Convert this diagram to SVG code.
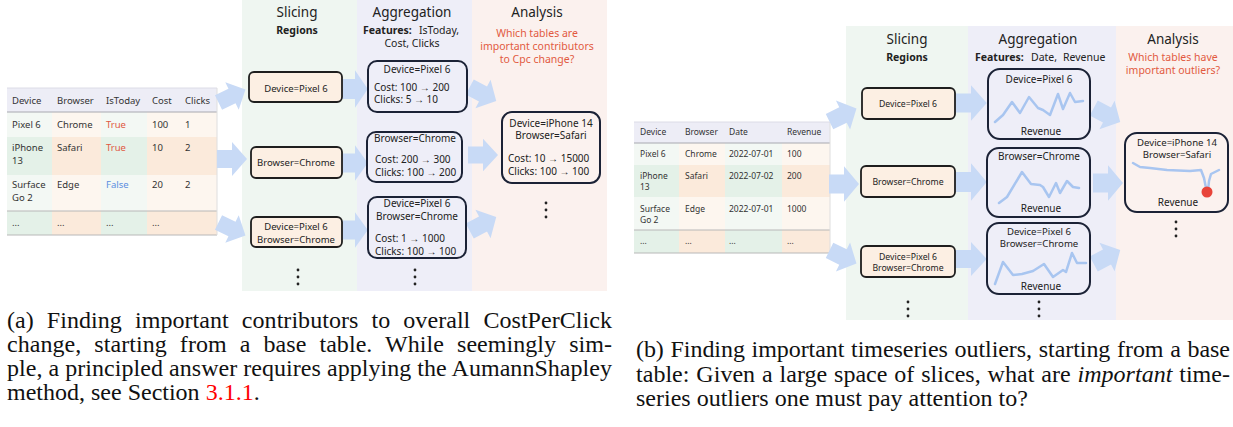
<svg xmlns="http://www.w3.org/2000/svg" width="1233" height="427" viewBox="0 0 1233 427">
<style>
text{font-family:"Noto Sans","Open Sans",sans-serif;fill:#222}
.hdr{font-size:13.5px;text-anchor:middle}
.sub{font-size:10.5px;font-weight:bold;text-anchor:middle}
.feat{font-size:10.5px}
.b{font-weight:bold}
.red{fill:#e25a3f;font-size:10.5px;text-anchor:middle}
.tl{font-size:9.5px;fill:#333}
.tr{font-size:8.5px;fill:#333}
.t{fill:#e0583f}
.f{fill:#5b8ee0}
.slice{fill:#fcefe3;stroke:#1e1e1e;stroke-width:1.8}
.agg{fill:#eeeef8;stroke:#1b2236;stroke-width:2}
.an{fill:#fbf2ef;stroke:#1b2236;stroke-width:2}
.st{font-size:9.5px;text-anchor:middle}
.st2{font-size:8.7px;text-anchor:middle}
.bt{font-size:10px}
.br{font-size:9.6px}
.c{text-anchor:middle}
.arr{fill:#c8daf6}
.ts{fill:none;stroke:#a8c5f0;stroke-width:2.5;stroke-linejoin:round;stroke-linecap:round}
.dot{fill:#222}
.cap{font-family:"Liberation Serif","Times New Roman",serif;font-size:24px;fill:#111}
.gl{fill:#f3f8f4}.gd{fill:#e4f1e8}.ol{fill:#fdf6ef}.od{fill:#fbeadb}
.hd{fill:#ededf6}
</style>
<defs>
<path id="ba" d="M-15,-9 H0 V-17 L15,0 L0,17 V9 H-15 Z"/>
<g id="vd"><circle cx="0" cy="0" r="1.4"/><circle cx="0" cy="7" r="1.4"/><circle cx="0" cy="14" r="1.4"/></g>
</defs>
<rect width="1233" height="427" fill="#ffffff"/>

<!-- column backgrounds -->
<g id="bg-left">
<rect x="242" y="0" width="115" height="291" fill="#eff6f1"/>
<rect x="357" y="0" width="115" height="291" fill="#eeeef8"/>
<rect x="472" y="0" width="135" height="291" fill="#fbf1ee"/>
</g>
<g id="bg-right">
<rect x="846" y="26" width="122" height="294" fill="#eff6f1"/>
<rect x="968" y="26" width="148" height="294" fill="#eeeef8"/>
<rect x="1116" y="26" width="117" height="294" fill="#fbf1ee"/>
</g>

<!-- headers -->
<g id="headers-left">
<text class="hdr" x="297" y="17">Slicing</text>
<text class="sub" x="297" y="34">Regions</text>
<text class="hdr" x="412" y="17">Aggregation</text>
<text class="feat" x="363" y="34"><tspan class="b">Features:</tspan><tspan x="419">IsToday,</tspan></text>
<text class="feat c" x="412" y="47">Cost, Clicks</text>
<text class="hdr" x="537" y="17">Analysis</text>
<text class="red" x="537" y="37">Which tables are</text>
<text class="red" x="537" y="50">important contributors</text>
<text class="red" x="537" y="63">to Cpc change?</text>
</g>
<g id="headers-right">
<text class="hdr" x="907" y="44">Slicing</text>
<text class="sub" x="907" y="61">Regions</text>
<text class="hdr" x="1038" y="44">Aggregation</text>
<text class="feat" x="975" y="61"><tspan class="b">Features:</tspan><tspan x="1031">Date,</tspan><tspan x="1063">Revenue</tspan></text>
<text class="hdr" x="1173" y="44">Analysis</text>
<text class="red" x="1173" y="61">Which tables have</text>
<text class="red" x="1173" y="74">important outliers?</text>
</g>

<!-- left table -->
<g id="table-left">
<rect class="hd" x="7" y="88" width="210" height="24"/>
<rect class="gl" x="7" y="112" width="45" height="25"/><rect class="ol" x="52" y="112" width="49" height="25"/><rect class="gl" x="101" y="112" width="46" height="25"/><rect class="ol" x="147" y="112" width="70" height="25"/>
<rect class="gd" x="7" y="137" width="45" height="38"/><rect class="od" x="52" y="137" width="49" height="38"/><rect class="gd" x="101" y="137" width="46" height="38"/><rect class="od" x="147" y="137" width="70" height="38"/>
<rect class="gl" x="7" y="175" width="45" height="36"/><rect class="ol" x="52" y="175" width="49" height="36"/><rect class="gl" x="101" y="175" width="46" height="36"/><rect class="ol" x="147" y="175" width="70" height="36"/>
<rect class="gd" x="7" y="211" width="45" height="24"/><rect class="od" x="52" y="211" width="49" height="24"/><rect class="gd" x="101" y="211" width="46" height="24"/><rect class="od" x="147" y="211" width="70" height="24"/>
<line x1="7" y1="88" x2="217" y2="88" stroke="#dcdce6" stroke-width="1"/>
<line x1="7" y1="112" x2="217" y2="112" stroke="#a8a8b0" stroke-width="1"/>
<line x1="7" y1="211" x2="217" y2="211" stroke="#b8b8b8" stroke-width="1"/>
<line x1="7" y1="235" x2="217" y2="235" stroke="#b8b8b8" stroke-width="1"/>
<line x1="217" y1="88" x2="217" y2="235" stroke="#dedede" stroke-width="1"/>
<text class="tl" x="12" y="104">Device</text><text class="tl" x="57" y="104">Browser</text><text class="tl" x="106" y="104">IsToday</text><text class="tl" x="152" y="104">Cost</text><text class="tl" x="185" y="104">Clicks</text>
<text class="tl" x="12" y="128">Pixel 6</text><text class="tl" x="57" y="128">Chrome</text><text class="tl t" x="106" y="128">True</text><text class="tl" x="152" y="128">100</text><text class="tl" x="185" y="128">1</text>
<text class="tl" x="12" y="151">iPhone</text><text class="tl" x="12" y="164">13</text><text class="tl" x="57" y="151">Safari</text><text class="tl t" x="106" y="151">True</text><text class="tl" x="152" y="151">10</text><text class="tl" x="185" y="151">2</text>
<text class="tl" x="12" y="188">Surface</text><text class="tl" x="12" y="201">Go 2</text><text class="tl" x="57" y="188">Edge</text><text class="tl f" x="106" y="188">False</text><text class="tl" x="152" y="188">20</text><text class="tl" x="185" y="188">2</text>
<text class="tl" x="12" y="226" font-size="7">...</text><text class="tl" x="57" y="226" font-size="7">...</text><text class="tl" x="106" y="226" font-size="7">...</text><text class="tl" x="152" y="226" font-size="7">...</text>
</g>

<!-- right table -->
<g id="table-right">
<rect class="hd" x="634" y="122" width="196" height="21"/>
<rect class="gl" x="634" y="143" width="45" height="22"/><rect class="ol" x="679" y="143" width="46" height="22"/><rect class="gl" x="725" y="143" width="57" height="22"/><rect class="ol" x="782" y="143" width="48" height="22"/>
<rect class="gd" x="634" y="165" width="45" height="32"/><rect class="od" x="679" y="165" width="46" height="32"/><rect class="gd" x="725" y="165" width="57" height="32"/><rect class="od" x="782" y="165" width="48" height="32"/>
<rect class="gl" x="634" y="197" width="45" height="33"/><rect class="ol" x="679" y="197" width="46" height="33"/><rect class="gl" x="725" y="197" width="57" height="33"/><rect class="ol" x="782" y="197" width="48" height="33"/>
<rect class="gd" x="634" y="230" width="45" height="23"/><rect class="od" x="679" y="230" width="46" height="23"/><rect class="gd" x="725" y="230" width="57" height="23"/><rect class="od" x="782" y="230" width="48" height="23"/>
<line x1="634" y1="122" x2="830" y2="122" stroke="#dcdce6" stroke-width="1"/>
<line x1="634" y1="143" x2="830" y2="143" stroke="#a8a8b0" stroke-width="1"/>
<line x1="634" y1="230" x2="830" y2="230" stroke="#b8b8b8" stroke-width="1"/>
<line x1="634" y1="253" x2="830" y2="253" stroke="#b8b8b8" stroke-width="1"/>
<line x1="830" y1="122" x2="830" y2="253" stroke="#dedede" stroke-width="1"/>
<text class="tr" x="640" y="135">Device</text><text class="tr" x="685" y="135">Browser</text><text class="tr" x="729" y="135">Date</text><text class="tr" x="787" y="135">Revenue</text>
<text class="tr" x="640" y="157">Pixel 6</text><text class="tr" x="685" y="157">Chrome</text><text class="tr" x="729" y="157">2022-07-01</text><text class="tr" x="787" y="157">100</text>
<text class="tr" x="640" y="179">iPhone</text><text class="tr" x="640" y="190">13</text><text class="tr" x="685" y="179">Safari</text><text class="tr" x="729" y="179">2022-07-02</text><text class="tr" x="787" y="179">200</text>
<text class="tr" x="640" y="212">Surface</text><text class="tr" x="640" y="223">Go 2</text><text class="tr" x="685" y="212">Edge</text><text class="tr" x="729" y="212">2022-07-01</text><text class="tr" x="787" y="212">1000</text>
<text class="tr" x="640" y="244" font-size="6.5">...</text><text class="tr" x="685" y="244" font-size="6.5">...</text><text class="tr" x="729" y="244" font-size="6.5">...</text><text class="tr" x="787" y="244" font-size="6.5">...</text>
</g>

<!-- connectors -->
<g id="connectors">
<use href="#ba" class="arr" transform="translate(232,96) rotate(-26) scale(1,0.9)"/>
<use href="#ba" class="arr" transform="translate(232,159)"/>
<use href="#ba" class="arr" transform="translate(232,229) rotate(26) scale(1,0.9)"/>
<use href="#ba" class="arr" transform="translate(355,89) scale(0.85,1.1)"/>
<use href="#ba" class="arr" transform="translate(355,163) scale(0.85,1.05)"/>
<use href="#ba" class="arr" transform="translate(355,230) scale(0.85,1.05)"/>
<use href="#ba" class="arr" transform="translate(483,94) rotate(28) scale(1,0.95)"/>
<use href="#ba" class="arr" transform="translate(483,155) scale(1,0.95)"/>
<use href="#ba" class="arr" transform="translate(483,224) rotate(-28) scale(1,0.95)"/>
<use href="#ba" class="arr" transform="translate(843,115) rotate(-26) scale(1,0.95)"/>
<use href="#ba" class="arr" transform="translate(844,184) scale(1,1.05)"/>
<use href="#ba" class="arr" transform="translate(843,257) rotate(26) scale(1,0.95)"/>
<use href="#ba" class="arr" transform="translate(971,103) scale(1.05,1.05)"/>
<use href="#ba" class="arr" transform="translate(971,182) scale(1.05,1.1)"/>
<use href="#ba" class="arr" transform="translate(971,259) scale(1.05,1)"/>
<use href="#ba" class="arr" transform="translate(1107,115) rotate(28) scale(1,0.95)"/>
<use href="#ba" class="arr" transform="translate(1108,183) scale(1,1.05)"/>
<use href="#ba" class="arr" transform="translate(1107,257) rotate(-28) scale(1,0.95)"/>
</g>

<!-- left nodes -->
<g id="slice-l1"><rect class="slice" x="249" y="72" width="93" height="30" rx="5"/><text class="st" x="296" y="92">Device=Pixel 6</text></g>
<g id="slice-l2"><rect class="slice" x="251" y="147" width="91" height="31" rx="5"/><text class="st" x="296" y="166">Browser=Chrome</text></g>
<g id="slice-l3"><rect class="slice" x="251" y="217" width="91" height="30" rx="5"/><text class="st" x="296" y="230">Device=Pixel 6</text><text class="st" x="296" y="242.5">Browser=Chrome</text></g>
<g id="slice-l-more" class="dot"><use href="#vd" x="298" y="270"/></g>

<g id="agg-l1"><rect class="agg" x="368" y="61" width="99" height="51" rx="9"/><text class="bt c" x="417" y="73">Device=Pixel 6</text><text class="bt" x="374" y="91">Cost: 100 → 200</text><text class="bt" x="374" y="103">Clicks: 5 → 10</text></g>
<g id="agg-l2"><rect class="agg" x="367" y="132" width="95" height="50" rx="9"/><text class="bt c" x="415" y="142">Browser=Chrome</text><text class="bt" x="375" y="163">Cost: 200 → 300</text><text class="bt" x="375" y="175.5">Clicks: 100 → 200</text></g>
<g id="agg-l3"><rect class="agg" x="368" y="197" width="98" height="61" rx="9"/><text class="bt c" x="417" y="206.5">Device=Pixel 6</text><text class="bt c" x="417" y="219.5">Browser=Chrome</text><text class="bt" x="375" y="241.5">Cost: 1 → 1000</text><text class="bt" x="375" y="254.5">Clicks: 100 → 100</text></g>
<g id="agg-l-more" class="dot"><use href="#vd" x="415" y="270"/></g>

<g id="analysis-l"><rect class="an" x="502" y="112" width="98" height="71" rx="10"/><text class="bt c" x="551" y="126.5">Device=iPhone 14</text><text class="bt c" x="551" y="139">Browser=Safari</text><text class="bt" x="508" y="161.5">Cost: 10 → 15000</text><text class="bt" x="508" y="174.5">Clicks: 100 → 100</text></g>
<g id="analysis-l-more" class="dot"><use href="#vd" x="546" y="203"/></g>

<!-- right nodes -->
<g id="slice-r1"><rect class="slice" x="862" y="88" width="93" height="31" rx="5"/><text class="st2" x="908" y="106.5">Device=Pixel 6</text></g>
<g id="slice-r2"><rect class="slice" x="861" y="166" width="94" height="31" rx="5"/><text class="st2" x="908" y="185">Browser=Chrome</text></g>
<g id="slice-r3"><rect class="slice" x="861" y="246" width="94" height="31" rx="5"/><text class="st2" x="908" y="260">Device=Pixel 6</text><text class="st2" x="908" y="271">Browser=Chrome</text></g>
<g id="slice-r-more" class="dot"><use href="#vd" x="908" y="302"/></g>

<g id="agg-r1"><rect class="agg" x="988" y="69" width="102" height="70" rx="12"/><text class="bt c" x="1039" y="82.5">Device=Pixel 6</text>
<polyline class="ts" points="995,122 1003,115 1012,102 1020,113 1029,97 1038,108 1043,110 1050,115 1058,94 1063,109 1070,93 1075,102 1083,101"/>
<text class="bt c" x="1041" y="134.5">Revenue</text></g>
<g id="agg-r2"><rect class="agg" x="987" y="148" width="103" height="69" rx="12"/><text class="bt c" x="1039" y="159.5">Browser=Chrome</text>
<polyline class="ts" points="999,203 1007,197 1022,172 1031,184 1040,185 1043,187 1049,197 1056,183 1060,193 1067,181 1073,187 1079,188"/>
<text class="bt c" x="1041" y="211.5">Revenue</text></g>
<g id="agg-r3"><rect class="agg" x="987" y="223" width="103" height="71" rx="12"/><text class="br c" x="1039" y="235">Device=Pixel 6</text><text class="br c" x="1039" y="247">Browser=Chrome</text>
<polyline class="ts" points="995,284 1003,262 1013,275 1022,274 1033,271 1044,264 1053,277 1063,270 1066,272 1072,253 1077,263 1086,263"/>
<text class="bt c" x="1041" y="289.5">Revenue</text></g>
<g id="agg-r-more" class="dot"><use href="#vd" x="1039" y="302"/></g>

<g id="analysis-r"><rect class="an" x="1125" y="133" width="103" height="79" rx="12"/><text class="br c" x="1177" y="146">Device=iPhone 14</text><text class="br c" x="1177" y="158">Browser=Safari</text>
<polyline class="ts" points="1133,163 1140,167 1150,168 1167,170 1190,171 1201,170 1204,178 1206,188 1208,191 1209,181 1211,174 1219,170"/>
<circle cx="1207" cy="192" r="5.5" fill="#e8443a"/>
<text class="bt c" x="1178" y="205.5">Revenue</text></g>
<g id="analysis-r-more" class="dot"><use href="#vd" x="1176" y="222"/></g>

<!-- captions -->
<g id="caption-a">
<text class="cap" x="7" y="328" word-spacing="7" textLength="605">(a) Finding important contributors to overall CostPerClick</text>
<text class="cap" x="7" y="352" word-spacing="7" textLength="605">change, starting from a base table. While seemingly sim-</text>
<text class="cap" x="7" y="376" textLength="605">ple, a principled answer requires applying the AumannShapley</text>
<text class="cap" x="7" y="400">method, see Section <tspan fill="#ff0000">3.1.1</tspan>.</text>
</g>
<g id="caption-b">
<text class="cap" x="636" y="357" word-spacing="0.8" textLength="594">(b) Finding important timeseries outliers, starting from a base</text>
<text class="cap" x="636" y="382" word-spacing="0.8" textLength="594">table: Given a large space of slices, what are <tspan font-style="italic">important</tspan> time-</text>
<text class="cap" x="636" y="406">series outliers one must pay attention to?</text>
</g>
</svg>
